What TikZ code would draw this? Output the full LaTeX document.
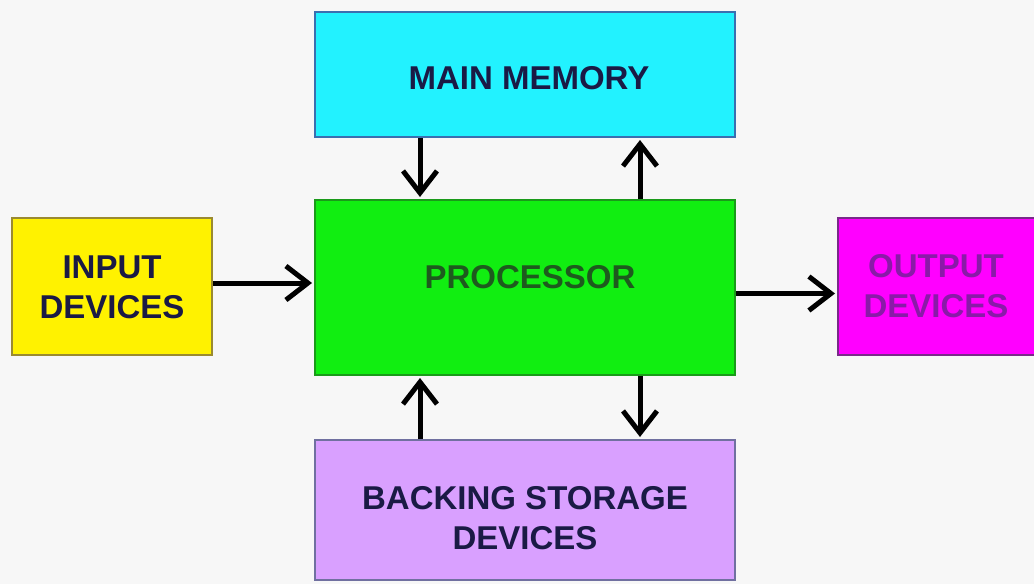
\documentclass[tikz,border=0pt]{standalone}
\usepackage{fontspec}
\setmainfont{Liberation Sans}
\usetikzlibrary{arrows.meta}
\definecolor{bg}{HTML}{F7F7F7}
\definecolor{memfill}{HTML}{22F2FF}
\definecolor{memdraw}{HTML}{3A6FB0}
\definecolor{procfill}{HTML}{11EE11}
\definecolor{procdraw}{HTML}{1A9A1A}
\definecolor{infill}{HTML}{FFF200}
\definecolor{indraw}{HTML}{9A8A30}
\definecolor{outfill}{HTML}{FF00FF}
\definecolor{outdraw}{HTML}{7A2A8A}
\definecolor{bsfill}{HTML}{D9A0FF}
\definecolor{bsdraw}{HTML}{7070A0}
\definecolor{txt}{HTML}{1A1A45}
\definecolor{proctxt}{HTML}{1E5A1E}
\definecolor{outtxt}{HTML}{8A1AA8}
\begin{document}
\begin{tikzpicture}[x=1pt,y=-1pt,
  box/.style={draw, line width=2pt, inner sep=0pt},
  lbl/.style={inner sep=0pt, align=center,
    font=\fontsize{33}{40}\selectfont\bfseries, text=txt},
  arr/.style={line width=5pt, -{Straight Barb[length=22pt,width=34pt,line width=5pt]}}]
\fill[bg] (0,0) rectangle (1034,584);
\useasboundingbox (0,0) rectangle (1034,584);
\node[box, fill=memfill, draw=memdraw, minimum width=420pt, minimum height=125pt] (mem) at (525,74.5) {};
\node[lbl] (memt) at (529,78) {MAIN MEMORY};
\node[box, fill=procfill, draw=procdraw, minimum width=420pt, minimum height=175pt] (proc) at (525,287.5) {};
\node[lbl, text=proctxt] (proct) at (530,277) {PROCESSOR};
\node[box, fill=infill, draw=indraw, minimum width=200pt, minimum height=137pt] (in) at (112,286.5) {};
\node[lbl] (intt) at (112,287) {INPUT\\DEVICES};
\node[box, fill=outfill, draw=outdraw, minimum width=200pt, minimum height=137pt] (out) at (938,286.5) {};
\node[lbl, text=outtxt] (outt) at (936,286) {OUTPUT\\DEVICES};
\node[box, fill=bsfill, draw=bsdraw, minimum width=420pt, minimum height=140pt] (bs) at (525,510) {};
\node[lbl] (bst) at (525,518) {BACKING STORAGE\\DEVICES};
\draw[arr] ([xshift=-105pt]mem.south) -- ([xshift=-105pt,yshift=2pt]proc.north);
\draw[arr] ([xshift=115pt]proc.north) -- ([xshift=115pt,yshift=-2pt]mem.south);
\draw[arr] ([xshift=-105pt]bs.north) -- ([xshift=-105pt,yshift=-2pt]proc.south);
\draw[arr] ([xshift=115pt]proc.south) -- ([xshift=115pt,yshift=2pt]bs.north);
\draw[arr] ([yshift=3.5pt]in.east) -- ([yshift=3.5pt,xshift=-2pt]in.east -| proc.west);
\draw[arr] ([yshift=-6pt]proc.east) -- ([yshift=-6pt,xshift=-2pt]proc.east -| out.west);
\end{tikzpicture}
\end{document}
